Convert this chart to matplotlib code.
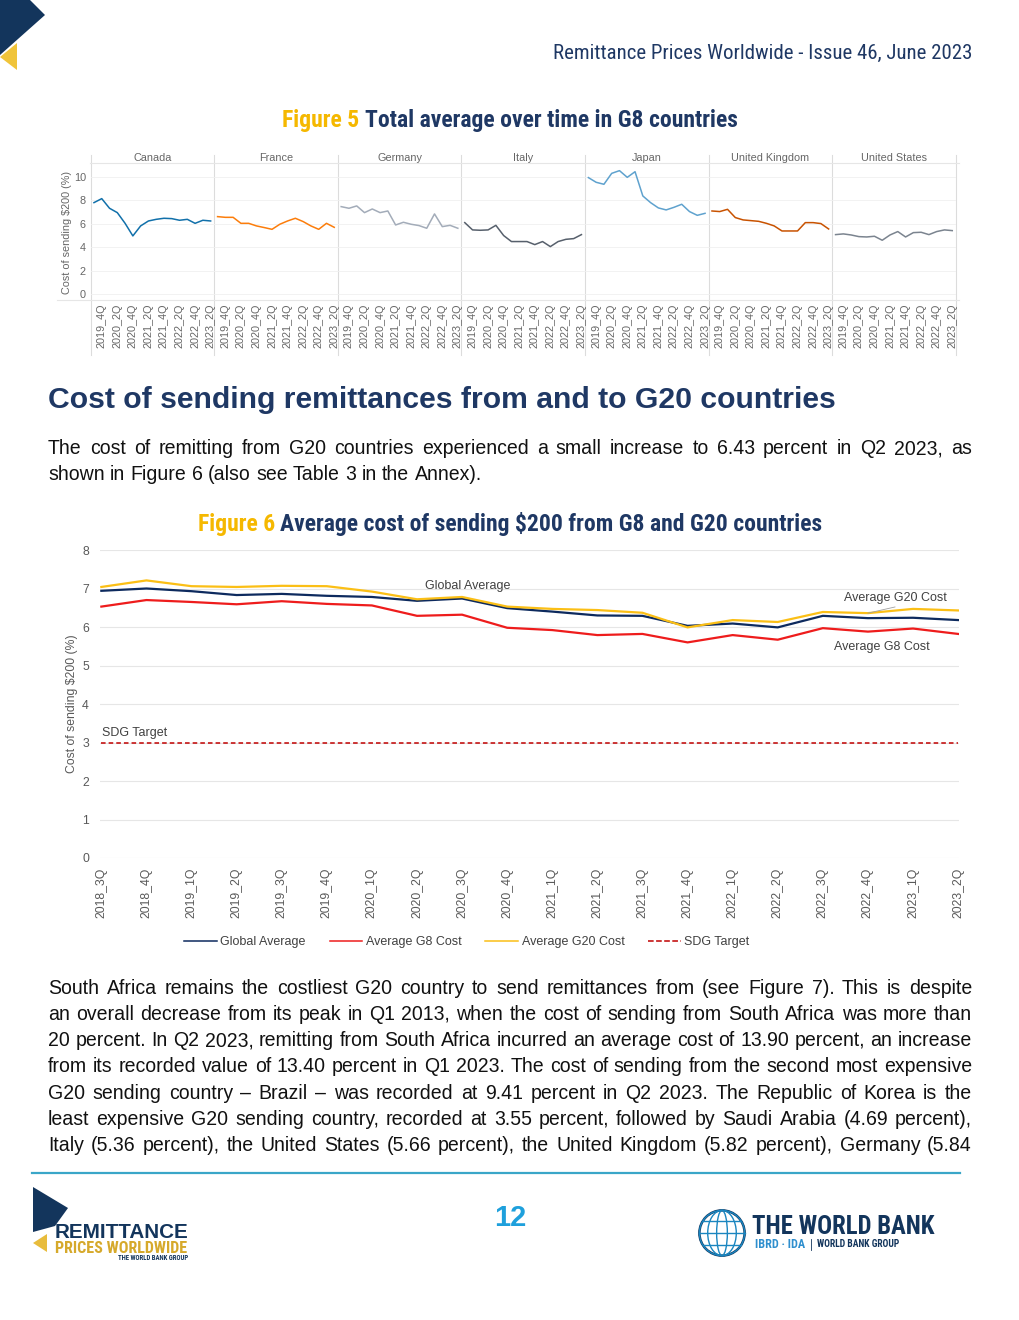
import matplotlib
matplotlib.use('Agg')
import matplotlib.pyplot as plt
from matplotlib import font_manager
from matplotlib.font_manager import FontProperties
from matplotlib.patches import Polygon, Circle, Ellipse
from matplotlib.lines import Line2D

W, H = 1020, 1320
NAVY = '#1f3864'
GOLD = '#f5b800'
INK = '#111111'
GREY = '#595959'

installed = {f.name for f in font_manager.fontManager.ttflist}
SANS = 'Liberation Sans'
NARROW = SANS
NARROW_STRETCH = 'normal'
for cand in ['Liberation Sans Narrow', 'Arial Narrow', 'Roboto Condensed', 'Open Sans Condensed']:
    if cand in installed:
        NARROW = cand
        break
else:
    if any(f.name == 'DejaVu Sans' and f.stretch == 'condensed' for f in font_manager.fontManager.ttflist):
        NARROW, NARROW_STRETCH = 'DejaVu Sans', 'condensed'
plt.rcParams['font.family'] = SANS

# ---------------- Figure 5 data (G8, by quarter) ----------------
quarters5 = ['2019_3Q', '2019_4Q', '2020_1Q', '2020_2Q', '2020_3Q', '2020_4Q',
             '2021_1Q', '2021_2Q', '2021_3Q', '2021_4Q', '2022_1Q', '2022_2Q',
             '2022_3Q', '2022_4Q', '2023_1Q', '2023_2Q']
g8_countries = ['Canada', 'France', 'Germany', 'Italy', 'Japan',
                'United Kingdom', 'United States']
canada = [7.79, 8.13, 7.31, 6.94, 6.03, 4.96, 5.81, 6.23, 6.37, 6.46, 6.43, 6.29, 6.37, 6.03, 6.29, 6.23]
france = [6.60, 6.54, 6.54, 6.03, 6.03, 5.81, 5.67, 5.52, 5.95, 6.23, 6.46, 6.18, 5.81, 5.52, 6.03, 5.69]
germany = [7.45, 7.31, 7.51, 6.94, 7.25, 6.94, 7.08, 5.89, 6.12, 5.95, 5.84, 5.61, 6.83, 5.75, 5.86, 5.61]
italy = [6.09, 5.47, 5.44, 5.47, 5.86, 4.99, 4.48, 4.48, 4.48, 4.22, 4.48, 4.05, 4.48, 4.67, 4.73, 5.07]
japan = [9.92, 9.52, 9.35, 10.28, 10.51, 9.94, 10.42, 8.36, 7.79, 7.34, 7.17, 7.39, 7.65, 7.03, 6.71, 6.88]
uk = [7.08, 7.03, 7.22, 6.52, 6.32, 6.26, 6.20, 6.03, 5.81, 5.38, 5.38, 5.38, 6.09, 6.09, 6.01, 5.55]
us = [5.07, 5.13, 5.04, 4.90, 4.87, 4.93, 4.59, 5.04, 5.33, 4.87, 5.24, 5.27, 5.07, 5.33, 5.47, 5.41]
g8_series = [canada, france, germany, italy, japan, uk, us]
g8_colors = ['#1170aa', '#fc7d0b', '#a3acb9', '#57606c', '#5fa2ce', '#c85200', '#7b848f']

# ---------------- Figure 6 data ----------------
quarters6 = ['2018_3Q', '2018_4Q', '2019_1Q', '2019_2Q', '2019_3Q', '2019_4Q',
             '2020_1Q', '2020_2Q', '2020_3Q', '2020_4Q', '2021_1Q', '2021_2Q',
             '2021_3Q', '2021_4Q', '2022_1Q', '2022_2Q', '2022_3Q', '2022_4Q',
             '2023_1Q', '2023_2Q']
global_avg = [6.94, 7.00, 6.93, 6.83, 6.86, 6.81, 6.78, 6.68, 6.74, 6.49,
              6.40, 6.30, 6.29, 6.03, 6.09, 5.99, 6.29, 6.23, 6.24, 6.18]
g8_avg = [6.53, 6.70, 6.65, 6.59, 6.67, 6.60, 6.56, 6.29, 6.32, 5.98,
          5.92, 5.79, 5.82, 5.60, 5.79, 5.67, 5.97, 5.88, 5.96, 5.82]
g20_avg = [7.04, 7.21, 7.06, 7.04, 7.07, 7.06, 6.92, 6.72, 6.78, 6.53,
           6.47, 6.44, 6.37, 5.99, 6.18, 6.13, 6.39, 6.36, 6.47, 6.43]
sdg_target = 3

# ---------------- page text ----------------
header = 'Remittance Prices Worldwide - Issue 46, June 2023'
heading = 'Cost of sending remittances from and to G20 countries'
para1 = ['The cost of remitting from G20 countries experienced a small increase to 6.43 percent in Q2 2023, as',
         'shown in Figure 6 (also see Table 3 in the Annex).']
para2 = ['South Africa remains the costliest G20 country to send remittances from (see Figure 7). This is despite',
         'an overall decrease from its peak in Q1 2013, when the cost of sending from South Africa was more than',
         '20 percent. In Q2 2023, remitting from South Africa incurred an average cost of 13.90 percent, an increase',
         'from its recorded value of 13.40 percent in Q1 2023. The cost of sending from the second most expensive',
         'G20 sending country \u2013 Brazil \u2013 was recorded at 9.41 percent in Q2 2023. The Republic of Korea is the',
         'least expensive G20 sending country, recorded at 3.55 percent, followed by Saudi Arabia (4.69 percent),',
         'Italy (5.36 percent), the United States (5.66 percent), the United Kingdom (5.82 percent), Germany (5.84']

fig = plt.figure(figsize=(W / 100, H / 100), dpi=100)
renderer = fig.canvas.get_renderer()

# page layer in pixel coordinates (y down)
page = fig.add_axes([0, 0, 1, 1])
page.set_xlim(0, W)
page.set_ylim(H, 0)
page.axis('off')


def font(weight='normal', narrow=False):
    if narrow:
        return dict(family=NARROW, stretch=NARROW_STRETCH, weight=weight)
    return dict(family=SANS, weight=weight)


def text_w(s, size, **kw):
    prop = FontProperties(size=size, **kw)
    return renderer.get_text_width_height_descent(s, prop, ismath=False)[0]


def fit(s, width, **kw):
    return 12 * width / text_w(s, 12, **kw)


def space_w(size):
    return text_w('a a', size) - text_w('aa', size)


def natural(line, size):
    words = line.split()
    return sum(text_w(w, size) for w in words) + (len(words) - 1) * space_w(size)


def put_line(line, y, size, justify=True, x0=48, x1=972):
    words = line.split()
    widths = [text_w(w, size) for w in words]
    if justify:
        gap = (x1 - x0 - sum(widths)) / (len(words) - 1)
    else:
        gap = space_w(size)
    x = x0
    for w, wd in zip(words, widths):
        page.text(x, y, w, fontsize=size, color=INK, va='center', ha='left')
        x += wd + gap


def caption(label, rest, cx, y, width):
    f = font('bold', narrow=True)
    full = label + ' ' + rest
    size = fit(full, width, **f)
    total = text_w(full, size, **f)
    x0 = cx - total / 2
    page.text(x0, y, label, fontsize=size, color=GOLD, va='center', ha='left', **f)
    page.text(x0 + total - text_w(rest, size, **f), y, rest, fontsize=size,
              color=NAVY, va='center', ha='left', **f)


# header logo + running title
page.add_patch(Polygon([(0, 0), (30, 0), (45, 15), (0, 55)], closed=True, color='#13355c', lw=0))
page.add_patch(Polygon([(17, 43), (17, 70), (0, 57)], closed=True, color='#f0c43a', lw=0))
hf = font(narrow=True)
page.text(972, 53, header, fontsize=fit(header, 419, **hf), color=NAVY,
          ha='right', va='center', **hf)

caption('Figure 5', 'Total average over time in G8 countries', 510, 121, 456)

# ---------------- Figure 5: small multiples ----------------
p_left, p_w = 90.7, 123.6
for k, (name, vals, col) in enumerate(zip(g8_countries, g8_series, g8_colors)):
    ax = fig.add_axes([(p_left + k * p_w) / W, 1 - 300 / H, p_w / W, (300 - 163) / H])
    ax.set_facecolor('none')
    ax.plot(range(len(quarters5)), vals, color=col, lw=1.1)
    ax.set_xlim(-0.42, 15.47)
    ax.set_ylim(-0.49, 11.16)
    ax.set_yticks([0, 2, 4, 6, 8, 10])
    ax.grid(axis='y', color='#f0f0f0', lw=0.6)
    ax.set_axisbelow(True)
    ax.set_xticks(range(1, len(quarters5), 2))
    ax.set_xticklabels(quarters5[1::2], rotation=90, fontsize=7.8, color='#666666')
    ax.tick_params(length=0, pad=2.5)
    for s in ax.spines.values():
        s.set_visible(False)
    if k == 0:
        ax.tick_params(axis='y', labelsize=7.8, labelcolor='#666666', pad=3.5)
    else:
        ax.tick_params(axis='y', labelleft=False)
    ax.text(0.5, 1.0, name, transform=ax.transAxes, ha='center', va='bottom',
            fontsize=7.8, color='#666666')

for k in range(8):
    x = p_left + k * p_w
    page.plot([x, x], [155, 355], color='#dcdcdc', lw=0.8)
page.plot([90, 959], [163, 163], color='#e6e6e6', lw=0.8)
page.plot([57, 959], [300, 300], color='#e6e6e6', lw=0.8)
page.text(67, 232, 'Cost of sending $200 (%)', rotation=90, fontsize=7.8,
          color='#666666', ha='center', va='center')

# ---------------- section heading and first paragraph ----------------
page.text(48, 400, heading, fontsize=fit(heading, 784, weight='bold'), weight='bold',
          color=NAVY, ha='left', va='center')

BODY = min(12 * 922 / natural(l, 12) for l in [para1[0]] + para2)
put_line(para1[0], 449, BODY)
put_line(para1[1], 475, BODY, justify=False)

caption('Figure 6', 'Average cost of sending $200 from G8 and G20 countries', 510, 524, 627)

# ---------------- Figure 6 ----------------
ax6 = fig.add_axes([100 / W, 1 - 858 / H, 859 / W, 308 / H])
ax6.set_facecolor('none')
x6 = range(len(quarters6))
ax6.plot(x6, global_avg, color='#0d2a5e', lw=1.6, label='Global Average')
ax6.plot(x6, g8_avg, color='#ee1c1c', lw=1.6, label='Average G8 Cost')
ax6.plot(x6, g20_avg, color='#fbbf16', lw=1.6, label='Average G20 Cost')
ax6.plot(x6, [sdg_target] * len(quarters6), color='#c00000', lw=1.1, ls=(0, (3, 2)),
         label='SDG Target')
ax6.set_xlim(-0.03, 19.02)
ax6.set_ylim(0, 8)
ax6.set_yticks(range(0, 9))
ax6.set_xticks(list(x6))
ax6.set_xticklabels(quarters6, rotation=90, fontsize=8.8, color=GREY)
ax6.tick_params(axis='y', labelsize=8.8, labelcolor=GREY, pad=8)
ax6.tick_params(axis='x', pad=7)
ax6.tick_params(length=0)
ax6.grid(axis='y', color='#e6e6e6', lw=0.8)
ax6.set_axisbelow(True)
for s in ax6.spines.values():
    s.set_visible(False)

ax6.text(8.12, 7.06, 'Global Average', fontsize=9, color='#404040', ha='center', va='center')
ax6.text(17.6, 6.75, 'Average G20 Cost', fontsize=9, color='#404040', ha='center', va='center')
ax6.plot([17.0, 17.6], [6.36, 6.52], color='#a0a0a0', lw=0.6)
ax6.text(17.3, 5.48, 'Average G8 Cost', fontsize=9, color='#404040', ha='center', va='center')
ax6.text(0.02, 3.25, 'SDG Target', fontsize=9, color='#404040', ha='left', va='center')

page.text(72, 704, 'Cost of sending $200 (%)', rotation=90, fontsize=8.8,
          color=GREY, ha='center', va='center')

handles, labels = ax6.get_legend_handles_labels()
handles = [Line2D([], [], color=h.get_color(), lw=1.1, ls=h.get_linestyle()) for h in handles]
leg = fig.legend(handles, labels, loc='center', bbox_to_anchor=(467 / W, 1 - 942 / H),
                 ncol=4, frameon=False, fontsize=9, handlelength=2.6,
                 handletextpad=0.3, columnspacing=1.9)
for t in leg.get_texts():
    t.set_color('#404040')

# ---------------- second paragraph ----------------
for i, line in enumerate(para2):
    put_line(line, 988 + i * 26.3, BODY)

# ---------------- footer ----------------
page.plot([32, 960], [1173, 1173], color='#3aa6c8', lw=1.6)
page.text(510, 1218, '12', fontsize=21, weight='bold', color='#1ea0dc', ha='center', va='center')

page.add_patch(Polygon([(33, 1187), (68, 1208), (55, 1226), (33, 1232)], closed=True,
                       color='#13355c', lw=0))
page.add_patch(Polygon([(47, 1234), (47, 1252), (33, 1243)], closed=True, color='#e8bc3c', lw=0))
page.text(55, 1232, 'REMITTANCE', fontsize=fit('REMITTANCE', 133, weight='bold'), weight='bold',
          color='#13355c', ha='left', va='center')
bf = font('bold', narrow=True)
page.text(55, 1248.5, 'PRICES WORLDWIDE', fontsize=fit('PRICES WORLDWIDE', 133, **bf),
          color='#d6a92b', ha='left', va='center', **bf)
page.text(188, 1258, 'THE WORLD BANK GROUP', fontsize=fit('THE WORLD BANK GROUP', 71, **bf),
          color='#13355c', ha='right', va='center', **bf)

globe = fig.add_axes([697 / W, 1 - 1258 / H, 50 / W, 50 / H])
globe.set_xlim(-1.05, 1.05)
globe.set_ylim(-1.05, 1.05)
globe.set_aspect('equal')
globe.axis('off')
globe.add_patch(Circle((0, 0), 0.95, fill=False, ec='#13355c', lw=1.8))
for wdt in [1.9, 1.2, 0.45]:
    globe.add_patch(Ellipse((0, 0), wdt, 1.9, fill=False, ec='#1a86c0', lw=1.0))
for yy in [-0.5, 0, 0.5]:
    half = (0.95 ** 2 - yy ** 2) ** 0.5
    globe.plot([-half, half], [yy, yy], color='#1a86c0', lw=1.0)

page.text(752, 1227, 'THE WORLD BANK', fontsize=fit('THE WORLD BANK', 183, **bf),
          color='#13355c', ha='left', va='center', **bf)
page.text(755, 1244, 'IBRD \u00b7 IDA', fontsize=fit('IBRD \u00b7 IDA', 50, **bf),
          color='#2f8fce', ha='left', va='center', **bf)
page.plot([811, 811], [1239, 1250], color='#13355c', lw=0.6)
page.text(817, 1244, 'WORLD BANK GROUP', fontsize=fit('WORLD BANK GROUP', 83, **bf),
          color='#13355c', ha='left', va='center', **bf)

fig.savefig('out.png', dpi=100)
